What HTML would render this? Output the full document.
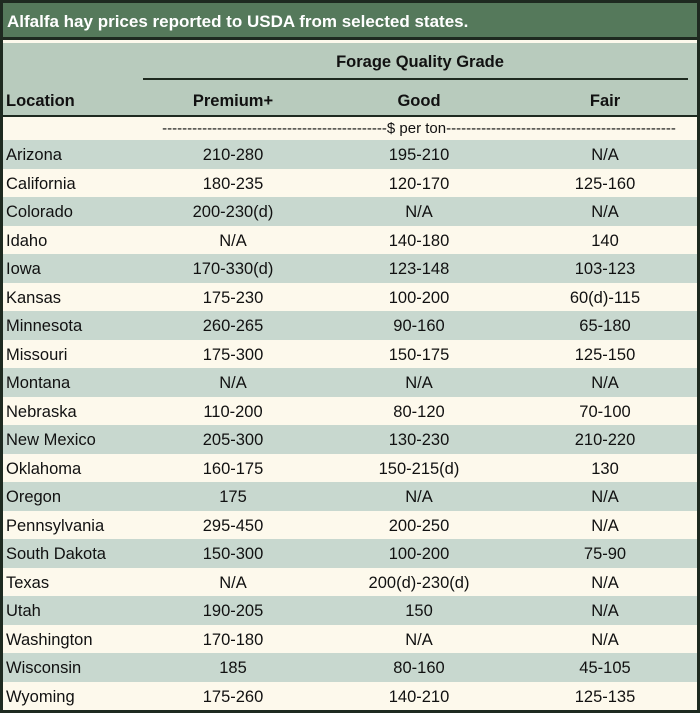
<!DOCTYPE html>
<html><head><meta charset="utf-8"><style>
body{margin:0;width:700px;height:713px;overflow:hidden;background:#fff;font-family:"Liberation Sans",sans-serif;}
#t{position:absolute;left:0;top:0;width:694px;height:707px;border:3px solid #1e2a20;background:#fdf9ec;}
.abs{position:absolute;}
#title{left:0;top:0;width:694px;height:37px;background:#55795b;color:#fff;font-weight:bold;font-size:17px;line-height:37px;padding-left:4px;box-sizing:border-box;border-bottom:3px solid #1e2a20;}
#head{left:0;top:40px;width:694px;height:72px;background:#b8cbbd;border-bottom:2px solid #1e2a20;}
.h{font-weight:bold;font-size:16.5px;color:#111;}
.row{position:absolute;left:0;width:694px;height:28.5px;font-size:16.5px;color:#111;line-height:30px;}
.c{position:absolute;text-align:center;width:180px;}
</style></head><body>
<div id="t">
<div id="title" class="abs">Alfalfa hay prices reported to USDA from selected states.</div>
<div id="head" class="abs">
<div class="abs h" style="left:140px;width:554px;top:10px;text-align:center">Forage Quality Grade</div>
<div class="abs" style="left:140px;width:545px;top:35px;height:1.5px;background:#1e2a20"></div>
<div class="abs h" style="left:3px;top:49px">Location</div>
<div class="abs h c" style="left:140px;top:49px">Premium+</div>
<div class="abs h c" style="left:326px;top:49px">Good</div>
<div class="abs h c" style="left:512px;top:49px">Fair</div>
</div>
<div class="abs" style="left:146px;top:114px;width:540px;font-size:15px;line-height:24px;overflow:hidden;white-space:nowrap;text-align:center;color:#111">---------------------------------------------$ per ton----------------------------------------------</div>
<div id="rows"></div>
</div>
<script>
const states=["Arizona","California","Colorado","Idaho","Iowa","Kansas","Minnesota","Missouri","Montana","Nebraska","New Mexico","Oklahoma","Oregon","Pennsylvania","South Dakota","Texas","Utah","Washington","Wisconsin","Wyoming"];
const premium=["210-280","180-235","200-230(d)","N/A","170-330(d)","175-230","260-265","175-300","N/A","110-200","205-300","160-175","175","295-450","150-300","N/A","190-205","170-180","185","175-260"];
const good=["195-210","120-170","N/A","140-180","123-148","100-200","90-160","150-175","N/A","80-120","130-230","150-215(d)","N/A","200-250","100-200","200(d)-230(d)","150","N/A","80-160","140-210"];
const fair=["N/A","125-160","N/A","140","103-123","60(d)-115","65-180","125-150","N/A","70-100","210-220","130","N/A","N/A","75-90","N/A","N/A","N/A","45-105","125-135"];
const box=document.getElementById('rows');
states.forEach((s,i)=>{
 const r=document.createElement('div');r.className='row';
 
 
 r.style.top=(137+i*28.5)+'px';
 r.style.background=i%2===0?'#c8d8cf':'#fdf9ec';
 const a=document.createElement('div');a.className='abs';a.style.left='3px';a.textContent=s;
 
 
 r.appendChild(a);
 [[premium[i],140],[good[i],326],[fair[i],512]].forEach(([v,x],j)=>{
  const c=document.createElement('div');c.className='c';c.style.left=x+'px';c.textContent=v;
  
  
  r.appendChild(c);
 });
 box.appendChild(r);
});
</script>
</body></html>
